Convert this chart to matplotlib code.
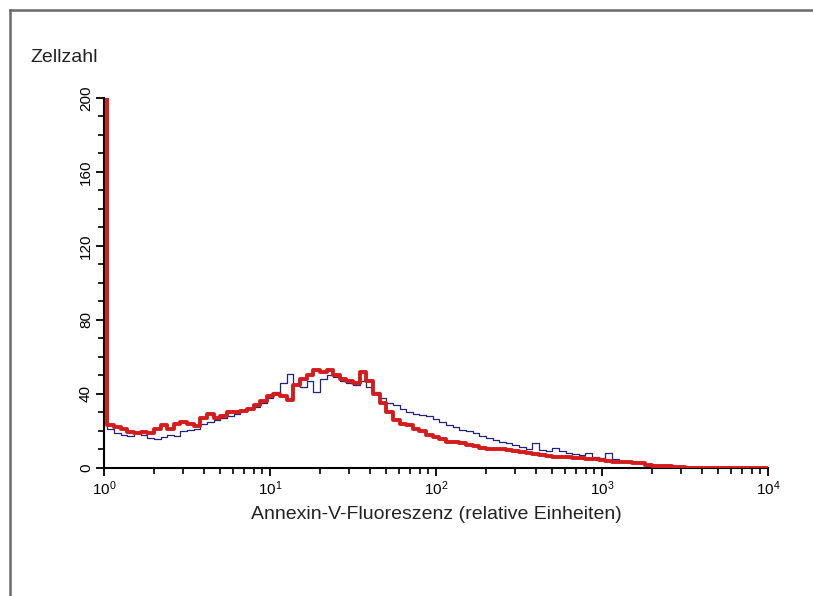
import numpy as np
import matplotlib
matplotlib.use("Agg")
import matplotlib.pyplot as plt
from matplotlib.lines import Line2D
from matplotlib.ticker import LogLocator, MultipleLocator

plt.rcParams['font.family'] = ['Liberation Sans', 'DejaVu Sans']
plt.rcParams['mathtext.fontset'] = 'custom'
plt.rcParams['mathtext.rm'] = 'Liberation Sans'
plt.rcParams['mathtext.it'] = 'Liberation Sans'

# Kanalskala: 4 Dekaden, 101 logarithmische Kanäle
n_channels = 101
x_min, x_max = 1.0, 1e4

# Zellzahl je Kanal, rot = dicke Linie, blau = dünne Linie
counts_red = [
    250, 23, 22, 21, 19.5, 19, 19.5, 19, 21, 23,
    21, 24, 25, 24, 22.5, 27, 29, 27, 28, 30,
    30, 31, 32, 34, 36, 39, 40, 39, 37, 45,
    48, 50, 53, 52, 53, 50, 48, 47, 46, 52,
    47, 40, 35, 30, 26, 24, 23, 21, 20, 18,
    17, 15.5, 14, 14, 13.5, 12.5, 12, 11, 10.5, 10.3,
    10, 9.7, 9, 8.5, 8, 7.5, 7, 6.5, 6.2, 6,
    5.8, 5.5, 5.3, 5, 4.6, 4.3, 4, 3.5, 3.2, 3,
    2.8, 2.5, 1.8, 1.2, 1.0, 0.8, 0.6, 0.3, 0, 0,
    0, 0, 0, 0, 0, 0, 0, 0, 0, 0,
    0,
]
counts_blue = [
    250, 21, 19, 18, 17.5, 19, 18, 16, 15.5, 17,
    18, 17.5, 20, 20.5, 21, 24, 25, 26, 27, 28,
    29, 31, 32, 33, 35, 38, 41, 46, 51, 45,
    44, 47, 41, 48, 50, 49, 47, 46, 45, 47,
    44, 41, 38, 35, 34, 32, 30, 29, 28.5, 28,
    26.5, 25, 23, 22, 20.5, 20, 19, 17.5, 16, 15,
    14, 13.5, 12.5, 11.5, 10.5, 13.5, 9.5, 9, 11, 9,
    8, 7.5, 7, 8, 6, 5.5, 8, 5, 4, 3.5,
    3.2, 2.8, 2, 1.5, 1.2, 0.8, 0.5, 0.3, 0, 0,
    0, 0, 0, 0, 0, 0, 0, 0, 0, 0,
    0,
]

channels = np.logspace(np.log10(x_min), np.log10(x_max), n_channels)

fig = plt.figure(figsize=(8.13, 5.96), dpi=100)
ax = fig.add_axes([0.128, 0.2148, 0.8166, 0.6208])

ax.plot(channels, counts_blue, drawstyle='steps-mid', color='#23237a', lw=0.9, zorder=2)
ax.plot(channels, counts_red, drawstyle='steps-mid', color='#d41c1c', lw=2.8, zorder=3)

ax.set_xscale('log')
ax.set_xlim(x_min, x_max)
ax.set_ylim(0, 200)

ax.spines['top'].set_visible(False)
ax.spines['right'].set_visible(False)
ax.spines['left'].set_linewidth(1.5)
ax.spines['bottom'].set_linewidth(1.5)

ax.xaxis.set_major_locator(LogLocator(base=10, numticks=10))
ax.xaxis.set_minor_locator(LogLocator(base=10, subs=np.arange(2, 10), numticks=20))
ax.yaxis.set_major_locator(MultipleLocator(40))
ax.yaxis.set_minor_locator(MultipleLocator(10))
ax.tick_params(which='major', direction='out', length=6, width=1.3, labelsize=11, pad=2)
ax.tick_params(which='minor', direction='out', length=4, width=1.2)
for lbl in ax.get_yticklabels():
    lbl.set_rotation(90)
    lbl.set_va('center')

ax.set_xlabel('Annexin-V-Fluoreszenz (relative Einheiten)', fontsize=14, color='#222222', labelpad=6)
fig.text(30 / 813, 1 - 57 / 596, 'Zellzahl', fontsize=14, color='#222222', ha='left', va='center')

# Bildrahmen links und oben
fig.add_artist(Line2D([10 / 813, 10 / 813], [0, 1 - 10 / 596], transform=fig.transFigure, color='#6a6a6a', lw=1.8))
fig.add_artist(Line2D([10 / 813, 1], [1 - 10 / 596, 1 - 10 / 596], transform=fig.transFigure, color='#6a6a6a', lw=1.8))

fig.savefig('out.png', dpi=100)
